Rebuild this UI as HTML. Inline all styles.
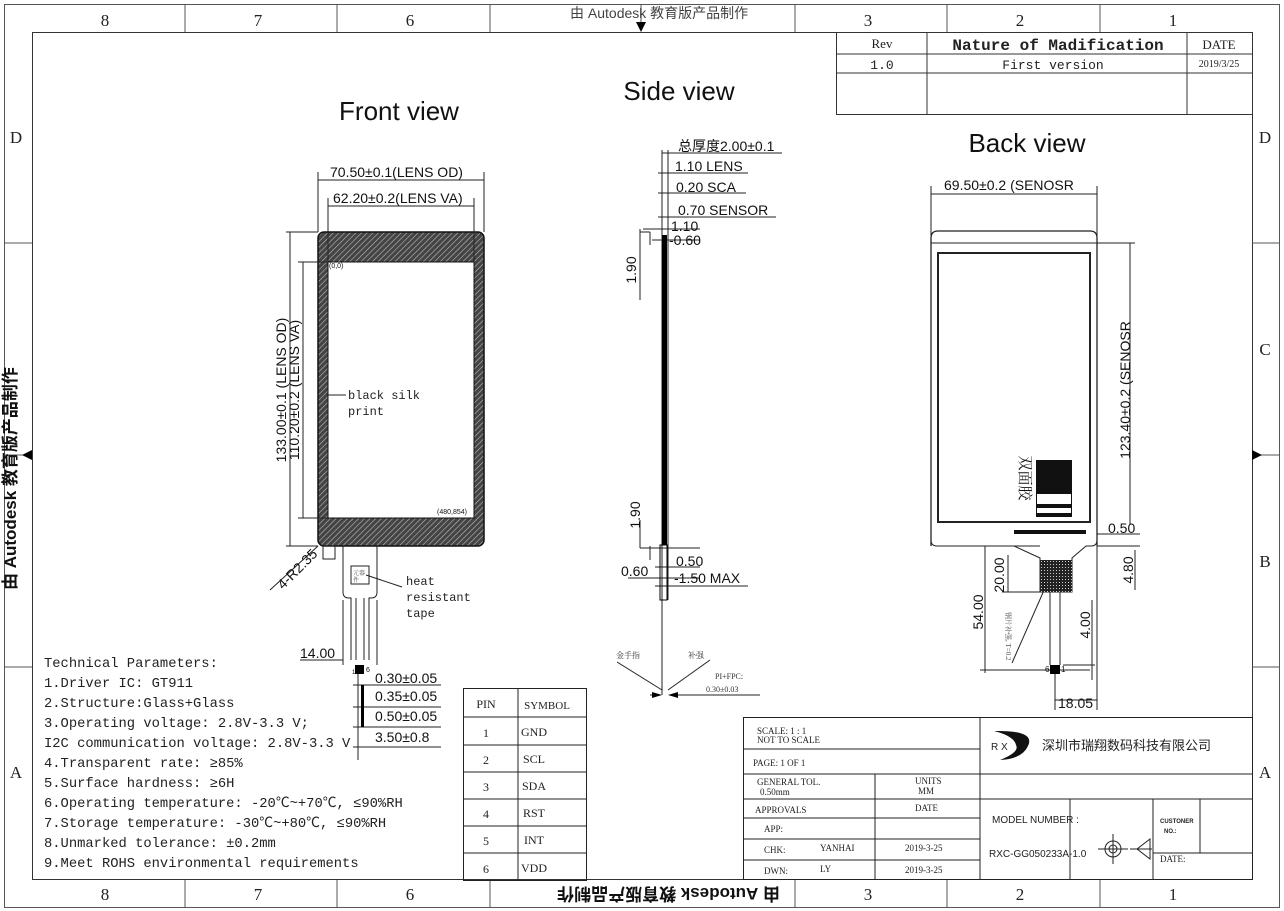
<!DOCTYPE html>
<html><head><meta charset="utf-8"><style>
html,body{margin:0;padding:0;background:#fff;width:1284px;height:911px;overflow:hidden}
svg{display:block}
.m{font-family:"Liberation Mono","Noto Sans CJK SC",monospace}
.s{font-family:"Liberation Sans","Noto Sans CJK SC",sans-serif}
.sf{font-family:"Liberation Serif","Noto Serif CJK SC",serif}
</style></head><body>
<svg width="1284" height="911" viewBox="0 0 1284 911" xmlns="http://www.w3.org/2000/svg">
<defs>
<pattern id="h" width="4" height="4" patternUnits="userSpaceOnUse" patternTransform="rotate(45)">
<rect width="4" height="4" fill="#444"/><line x1="0" y1="0" x2="0" y2="4" stroke="#bbb" stroke-width="1.2"/></pattern>
<pattern id="g" width="3" height="3" patternUnits="userSpaceOnUse"><rect width="3" height="3" fill="#222"/><rect width="1" height="1" fill="#ccc"/></pattern>
</defs>
<g fill="none" stroke="#555" stroke-width="1">
<rect x="4.5" y="4.5" width="1275" height="903"/>
<rect x="32.5" y="32.5" width="1220" height="847" stroke="#333"/>
<path d="M185 4V32M337 4V32M490 4V32M795 4V32M947 4V32M1100 4V32"/>
<path d="M185 880V908M337 880V908M490 880V908M795 880V908M947 880V908M1100 880V908"/>
<path d="M4 243H32M4 455H32M4 667H32M1252 243H1280M1252 455H1280M1252 667H1280"/>
<path d="M641 4V22M32 455H22M1252 455H1262"/>
</g>
<path d="M636 22H646L641 32Z M32 450V460L22 455Z M1252 450V460L1262 455Z" fill="#000"/>
<g class="sf" font-size="17" fill="#222" text-anchor="middle">
<text x="105" y="26">8</text><text x="258" y="26">7</text><text x="410" y="26">6</text>
<text x="868" y="26">3</text><text x="1020" y="26">2</text><text x="1173" y="26">1</text>
<text x="105" y="900">8</text><text x="258" y="900">7</text><text x="410" y="900">6</text>
<text x="868" y="900">3</text><text x="1020" y="900">2</text><text x="1173" y="900">1</text>
<text x="16" y="143">D</text><text x="16" y="778">A</text>
<text x="1265" y="143">D</text><text x="1265" y="778">A</text><text x="1265" y="355">C</text><text x="1265" y="567">B</text>
</g>
<text x="0" y="0" class="s" font-size="17" font-weight="bold" fill="#111" transform="translate(16,590) rotate(-90)">由 Autodesk 教育版产品制作</text>
<text x="0" y="0" class="s" font-size="14" fill="#111" transform="translate(570,18)" opacity="0.8">由 Autodesk 教育版产品制作</text>
<text x="0" y="0" class="s" font-size="17" font-weight="bold" fill="#111" transform="translate(780,888) rotate(180)">由 Autodesk 教育版产品制作</text>

<!-- revision table -->
<g stroke="#333" fill="none"><rect x="836.5" y="32.5" width="416" height="82"/><path d="M927 32V114M1187 32V114M836 54H1252M836 73H1252"/></g>
<g text-anchor="middle" fill="#222">
<text x="882" y="48" class="sf" font-size="13">Rev</text>
<text x="1058" y="50" class="m" font-size="16" font-weight="bold">Nature of Madification</text>
<text x="1219" y="49" class="sf" font-size="13">DATE</text>
<text x="882" y="69" class="m" font-size="13">1.0</text>
<text x="1053" y="69" class="m" font-size="13">First version</text>
<text x="1219" y="67" class="sf" font-size="10">2019/3/25</text>
</g>

<g class="s" fill="#111" font-size="26" text-anchor="middle">
<text x="399" y="120">Front view</text><text x="679" y="100">Side view</text><text x="1027" y="152">Back view</text>
</g>

<!-- FRONT VIEW -->
<rect x="318" y="232" width="166" height="314" rx="6" fill="url(#h)" stroke="#111" stroke-width="1.5"/>
<rect x="328" y="262" width="146" height="256" fill="#fff" stroke="#111"/>
<g stroke="#222" fill="none" stroke-width="1">
<path d="M318 232V172M484 232V172M318 180H484M328 262V198M474 262V198M328 206H474"/>
<path d="M318 232H286M318 546H286M290 232V546M328 262H298M328 518H298M303 262V518"/>
<path d="M328 395H346"/>
<path d="M270 590L318 546"/>
<rect x="323" y="546" width="12" height="13"/>
<path d="M343 546V592Q343 598 349 598H351V660M377 546V592Q377 598 371 598H369V660M356 598V660M364 598V660"/>
<rect x="351" y="566" width="18" height="18"/>
<path d="M366 575L402 587"/>
<path d="M300 660H343M343 600V665M377 600V665M358 670V760M353 685H441M353 707H441M353 727H441M353 747H441"/>
</g>
<rect x="355" y="665" width="9" height="9" fill="#000"/>
<rect x="361" y="685" width="3" height="42" fill="#000"/>
<g class="s" fill="#111" font-size="14">
<text x="330" y="177">70.50±0.1(LENS OD)</text>
<text x="333" y="203">62.20±0.2(LENS VA)</text>
<text transform="translate(286,390) rotate(-90)" text-anchor="middle">133.00±0.1 (LENS OD)</text>
<text transform="translate(299,390) rotate(-90)" text-anchor="middle">110.20±0.2 (LENS VA)</text>
<text transform="translate(283,590) rotate(-45)">4-R2.35</text>
<text x="300" y="658">14.00</text>
<text x="375" y="683">0.30±0.05</text>
<text x="375" y="701">0.35±0.05</text>
<text x="375" y="721">0.50±0.05</text>
<text x="375" y="742">3.50±0.8</text>
<text x="329" y="268" font-size="7">(0,0)</text>
<text x="437" y="514" font-size="7">(480,854)</text>
<text x="352" y="674" font-size="6">1</text><text x="366" y="672" font-size="7">6</text>
</g>
<g class="m" font-size="12" fill="#222">
<text x="348" y="399">black silk</text><text x="348" y="415">print</text>
<text x="406" y="585">heat</text><text x="406" y="601">resistant</text><text x="406" y="617">tape</text>
</g>
<text x="353" y="575" font-size="6" fill="#555" class="sf">元器</text><text x="353" y="582" font-size="6" fill="#555" class="sf">件</text>

<!-- SIDE VIEW -->
<g stroke="#222" fill="none">
<path d="M662 150V695M668 150V600M662 153H782M658 173H748M658 193H746M658 217H776M643 229H700M652 240H700"/>
<path d="M640 232H650M640 229V300M650 232V245M640 520V548M640 548H700M650 546V560"/>
<path d="M628 578H700M655 567H700M655 586H748"/>
<path d="M617 662L662 690M710 660L668 690M650 695H660M670 695H760"/>
</g>
<rect x="662" y="235" width="5" height="310" fill="#000"/>
<rect x="660" y="545" width="7" height="55" fill="none" stroke="#000"/>
<path d="M652 692L662 695L652 698ZM678 692L668 695L678 698Z" fill="#000"/>
<g class="s" fill="#111" font-size="14">
<text x="678" y="151">总厚度2.00±0.1</text>
<text x="675" y="171">1.10 LENS</text>
<text x="676" y="192">0.20 SCA</text>
<text x="678" y="215">0.70 SENSOR</text>
<text x="671" y="231">1.10</text>
<text x="669" y="245">-0.60</text>
<text transform="translate(636,270) rotate(-90)" text-anchor="middle">1.90</text>
<text transform="translate(640,515) rotate(-90)" text-anchor="middle">1.90</text>
<text x="676" y="566">0.50</text>
<text x="621" y="576">0.60</text>
<text x="674" y="583">-1.50  MAX</text>
</g>
<g class="sf" font-size="8" fill="#333"><text x="616" y="658">金手指</text><text x="688" y="658">补强</text>
<text x="715" y="679">PI+FPC:</text><text x="706" y="692">0.30±0.03</text></g>

<!-- BACK VIEW -->
<g stroke="#222" fill="none">
<path d="M931 546V238Q931 231 938 231H1090Q1097 231 1097 238V546" stroke-width="1.3"/>
<path d="M931 243H1097M931 534V540Q931 546 937 546H1014L1040 558V592H1072V558L1086 546H1091Q1097 546 1097 540V534"/>
<rect x="938" y="253" width="152" height="269" stroke-width="2"/>
<path d="M931 236V186M1097 236V186M931 194H1097M1097 243H1135M1130 243V525M1097 534H1140M1097 546H1140M1135 550V590"/>
<path d="M1040 546H980M985 546V673M1040 592H1002M1008 555V592M1050 592V665M1060 592V665M1012 663L1045 588"/>
<path d="M980 670H1090M1063 665H1095M1092 600V680M1055 674V710M1055 700H1097M1097 546V710"/>
<path d="M1036 495L1056 506M1036 505L1072 512"/>
</g>
<rect x="1036" y="460" width="36" height="57" fill="#111"/>
<rect x="1037" y="494" width="34" height="10" fill="#fff"/>
<rect x="1037" y="508" width="34" height="5" fill="#fff"/>
<rect x="1014" y="530" width="72" height="4" fill="#111"/>
<rect x="1040" y="560" width="32" height="32" fill="url(#g)"/>
<rect x="1050" y="665" width="10" height="9" fill="#000"/>
<g class="s" fill="#111" font-size="14">
<text x="944" y="190">69.50±0.2 (SENOSR</text>
<text transform="translate(1130,390) rotate(-90)" text-anchor="middle">123.40±0.2 (SENOSR</text>
<text x="1108" y="533">0.50</text>
<text transform="translate(1133,570) rotate(-90)" text-anchor="middle">4.80</text>
<text transform="translate(1004,575) rotate(-90)" text-anchor="middle">20.00</text>
<text transform="translate(983,612) rotate(-90)" text-anchor="middle">54.00</text>
<text transform="translate(1090,625) rotate(-90)" text-anchor="middle">4.00</text>
<text x="1058" y="708">18.05</text>
<text x="1045" y="672" font-size="8">6</text><text x="1061" y="672" font-size="8">1</text>
</g>
<text transform="translate(1020,478) rotate(90)" class="sf" font-size="15" fill="#111" text-anchor="middle">双面胶</text>
<text transform="translate(1006,612) rotate(90)" class="sf" font-size="7" fill="#555">钢片补强, T=0.2</text>

<!-- TECH PARAMS -->
<g class="m" font-size="13.8" fill="#222">
<text x="44" y="667">Technical Parameters:</text>
<text x="44" y="687">1.Driver IC: GT911</text>
<text x="44" y="707">2.Structure:Glass+Glass</text>
<text x="44" y="727">3.Operating voltage: 2.8V-3.3 V;</text>
<text x="44" y="747">I2C communication voltage: 2.8V-3.3 V</text>
<text x="44" y="767">4.Transparent rate: ≥85%</text>
<text x="44" y="787">5.Surface hardness: ≥6H</text>
<text x="44" y="807">6.Operating temperature: -20℃~+70℃, ≤90%RH</text>
<text x="44" y="827">7.Storage temperature: -30℃~+80℃, ≤90%RH</text>
<text x="44" y="847">8.Unmarked tolerance: ±0.2mm</text>
<text x="44" y="867">9.Meet ROHS environmental requirements</text>
</g>

<!-- PIN TABLE -->
<g stroke="#222" fill="none"><rect x="463.5" y="688.5" width="123" height="192"/>
<path d="M518 688V880M463 717H586M463 745H586M463 772H586M463 799H586M463 826H586M463 853H586"/></g>
<g class="sf" font-size="12" fill="#222" text-anchor="middle">
<text x="486" y="708">PIN</text><text x="547" y="709" font-size="11">SYMBOL</text>
<text x="486" y="737">1</text><text x="534" y="736">GND</text>
<text x="486" y="764">2</text><text x="534" y="763">SCL</text>
<text x="486" y="791">3</text><text x="534" y="790">SDA</text>
<text x="486" y="818">4</text><text x="534" y="817">RST</text>
<text x="486" y="845">5</text><text x="534" y="844">INT</text>
<text x="486" y="873">6</text><text x="534" y="872">VDD</text>
</g>

<!-- TITLE BLOCK -->
<g stroke="#222" fill="none">
<rect x="743.5" y="717.5" width="509" height="162"/>
<path d="M980 717V880M743 749H980M743 774H1252M743 799H1252M875 774V880M743 818H980M743 839H980M743 860H980"/>
<path d="M1070 799V880M1153 799V880M1200 799V853M1153 853H1252"/>
<circle cx="1113" cy="849" r="8"/><circle cx="1113" cy="849" r="4"/><path d="M1098 849H1128M1113 834V864M1130 849H1152M1137 849L1150 839V859Z"/>
</g>
<g class="sf" font-size="9" fill="#222">
<text x="757" y="734">SCALE: 1 : 1</text><text x="757" y="743">NOT TO SCALE</text>
<text x="753" y="766">PAGE: 1 OF 1</text>
<text x="757" y="785">GENERAL TOL.</text><text x="760" y="795">0.50mm</text>
<text x="915" y="784">UNITS</text><text x="918" y="794">MM</text>
<text x="755" y="813">APPROVALS</text><text x="915" y="811">DATE</text>
<text x="764" y="832">APP:</text>
<text x="764" y="853">CHK:</text><text x="820" y="851">YANHAI</text><text x="905" y="851">2019-3-25</text>
<text x="764" y="874">DWN:</text><text x="820" y="872">LY</text><text x="905" y="873">2019-3-25</text>
<text x="1160" y="862">DATE:</text>
</g>
<g class="s" fill="#222">
<text x="992" y="823" font-size="10">MODEL NUMBER :</text>
<text x="989" y="857" font-size="10">RXC-GG050233A-1.0</text>
<text x="1160" y="823" font-size="6" font-weight="bold">CUSTONER</text><text x="1164" y="833" font-size="6" font-weight="bold">NO.:</text>
<text x="991" y="750" font-size="10">R X</text>
<text x="1042" y="750" font-size="13">深圳市瑞翔数码科技有限公司</text>
</g>
<path d="M994 731Q1036 730 1028 746Q1022 759 1000 760Q1020 752 1016 745Q1014 736 994 731Z" fill="#111"/>
</svg>
</body></html>
